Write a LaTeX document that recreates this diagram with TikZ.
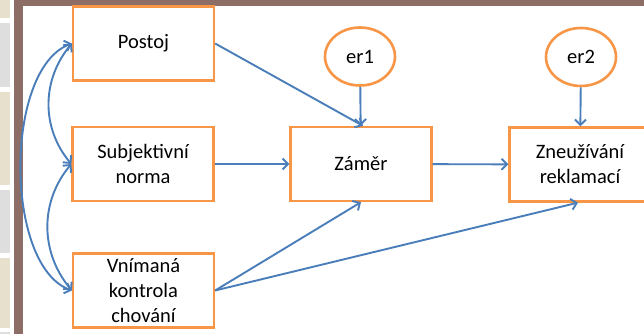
\documentclass[tikz,border=0pt]{standalone}
\usepackage{fontspec}
\setmainfont{Carlito}
\usetikzlibrary{positioning}
\usetikzlibrary{shapes.geometric}
\usetikzlibrary{arrows.meta}
\definecolor{boxorange}{RGB}{247,150,70}
\definecolor{pathblue}{RGB}{74,126,187}
\definecolor{framebrown}{RGB}{141,110,102}
\definecolor{stripgray}{RGB}{222,222,222}
\definecolor{stripbeige}{RGB}{231,224,205}

\begin{document}
\begin{tikzpicture}
  [x=1pt,y=-1pt,>={Straight Barb[length=5.5pt,width=11pt]},
  var/.style={rectangle,draw=boxorange,line width=2.3pt,fill=white,align=center,inner sep=0pt,minimum width=141pt,minimum height=74pt,font=\fontsize{20.5}{25}\selectfont},
  err/.style={ellipse,draw=boxorange,line width=2.6pt,fill=white,inner sep=0pt,minimum width=70pt,minimum height=58pt,font=\fontsize{20.5}{25}\selectfont},
  link/.style={->,pathblue,line width=1.9pt},
  cov/.style={<->,pathblue,line width=1.9pt}]
  \useasboundingbox (0,0) rectangle (644,334);
  \fill[white] (0,0) rectangle (644,334);

  % side strip and frame
  \fill[stripbeige] (0,0) rectangle (10,18);
  \fill[stripgray] (0,23) rectangle (10,87);
  \fill[stripbeige] (0,92) rectangle (10,185);
  \fill[stripgray] (0,190) rectangle (10,253);
  \fill[stripbeige] (0,258) rectangle (10,328);
  \fill[stripgray] (0,332) rectangle (10,334);
  \fill[framebrown] (14,0) rectangle (23,334);
  \fill[framebrown] (14,0) rectangle (644,6);

  \node[var] (postoj) at (143.5,43.5) {Postoj};
  \node[var] (norma) at (143,164) {Subjektivní\\norma};
  \node[var] (kontrola) at (143.5,290.5) {Vnímaná\\kontrola\\chování};
  \node[var] (zamer) at (361,164) {Záměr};
  \node[var] (zneuziti) at (580,164.5) {Zneužívání\\reklamací};

  \node[err] (er1) at (360,56.5) {er1};
  \node[err] (er2) at (581,57) {er2};

  \draw[link] (postoj.east) -- ([xshift=2pt]zamer.north);
  \draw[link] (er1) -- (zamer);
  \draw[link] (norma) -- (zamer);
  \draw[link] (zamer) -- (zneuziti);
  \draw[link] (kontrola.east) -- (zamer.south);
  \draw[link] (kontrola.east) -- ([xshift=-2pt]zneuziti.south);
  \draw[link] (er2) -- (zneuziti);

  \draw[cov] (postoj.west) to[out=230,in=130] (norma.west);
  \draw[cov] (norma.west) to[out=230,in=130] (kontrola.west);
  \draw[cov] (postoj.west) to[out=200,in=160,looseness=0.75] (kontrola.west);
\end{tikzpicture}
\end{document}
